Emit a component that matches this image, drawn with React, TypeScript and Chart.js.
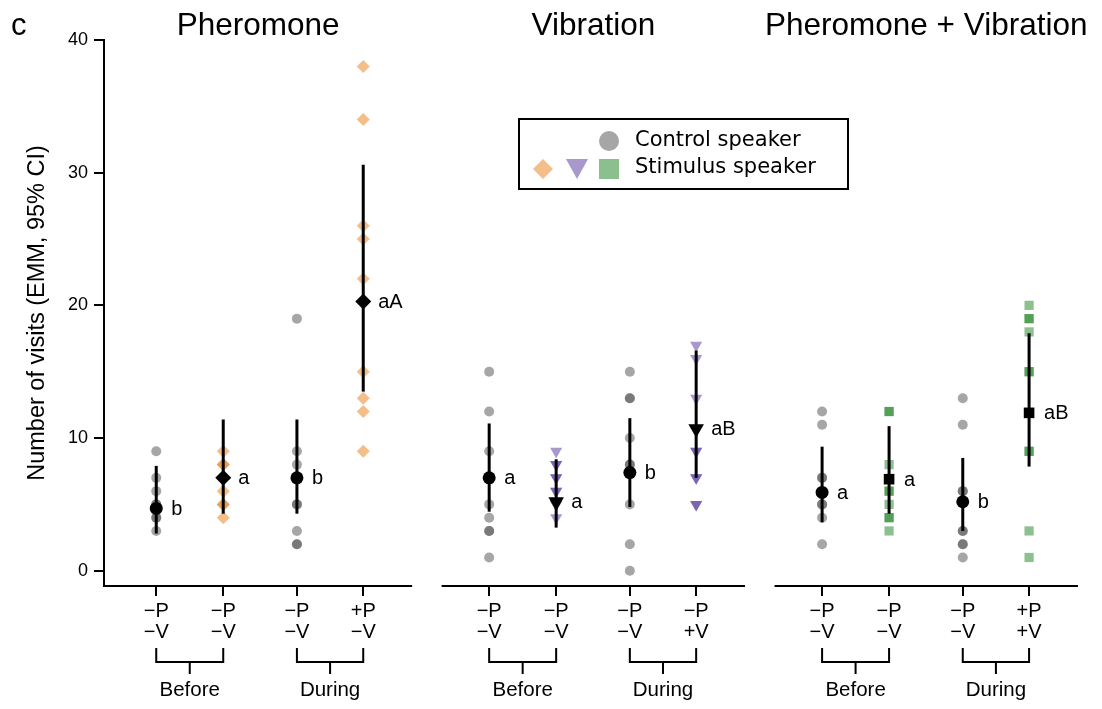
import React, { useEffect, useRef } from 'react';
import { Chart, registerables } from 'chart.js';

Chart.register(...registerables);

const FONT = '"Liberation Sans", Arial, Helvetica, sans-serif';
const LEGEND_FONT = '"DejaVu Sans", Verdana, sans-serif';

// ---- categories / labels ----
const PANELS = ['Pheromone', 'Vibration', 'Pheromone + Vibration'];
const GROUPS = ['Before', 'During'];
const X_LABELS_PHEROMONE = [['−P', '−V'], ['−P', '−V'], ['−P', '−V'], ['+P', '−V']];
const X_LABELS_VIBRATION = [['−P', '−V'], ['−P', '−V'], ['−P', '−V'], ['−P', '+V']];
const X_LABELS_COMBINED = [['−P', '−V'], ['−P', '−V'], ['−P', '−V'], ['+P', '+V']];
const Y_TICKS = [0, 10, 20, 30, 40];
const LEGEND_LABELS = ['Control speaker', 'Stimulus speaker'];

// ---- raw visit counts (order: before control, before stimulus, during control, during stimulus) ----
const PHEROMONE_RAW = [
  [9, 7, 6, 5, 5, 4, 4, 3],
  [9, 8, 8, 7, 6, 5, 5, 4],
  [19, 9, 8, 7, 5, 5, 3, 2, 2],
  [38, 34, 26, 25, 22, 15, 13, 12, 9],
];
const VIBRATION_RAW = [
  [15, 12, 9, 5, 4, 3, 3, 1],
  [9, 8, 8, 7, 7, 6, 6, 5, 5, 4],
  [15, 13, 13, 10, 8, 8, 5, 2, 0],
  [17, 16, 13, 9, 9, 7, 7, 5, 5],
];
const COMBINED_RAW = [
  [12, 11, 7, 7, 5, 5, 4, 2],
  [12, 12, 8, 6, 6, 5, 4, 4, 3],
  [13, 11, 6, 6, 3, 3, 2, 2, 1],
  [20, 19, 19, 18, 15, 15, 9, 9, 3, 1],
];

// ---- estimated marginal means and 95% CI ----
const PHEROMONE_EMM = [4.7, 7.0, 7.0, 20.3];
const PHEROMONE_LO = [2.8, 4.3, 4.3, 13.5];
const PHEROMONE_HI = [7.9, 11.4, 11.4, 30.6];
const PHEROMONE_LETTERS = ['b', 'a', 'b', 'aA'];

const VIBRATION_EMM = [7.0, 5.2, 7.4, 10.7];
const VIBRATION_LO = [4.45, 3.25, 4.8, 7.0];
const VIBRATION_HI = [11.1, 8.4, 11.5, 16.6];
const VIBRATION_LETTERS = ['a', 'a', 'b', 'aB'];

const COMBINED_EMM = [5.9, 6.9, 5.2, 11.9];
const COMBINED_LO = [3.65, 4.3, 3.0, 7.85];
const COMBINED_HI = [9.35, 10.9, 8.5, 17.9];
const COMBINED_LETTERS = ['a', 'a', 'b', 'aB'];

// ---- layout of category positions on the linear x scale ----
const COND_POS = [0.78, 1.78, 2.88, 3.87];
const PANEL_STEP = 4.97;
const AXIS_START = [0, 0.07, 0.07];
const AXIS_END = 4.6;
const X_MIN = 0;
const X_MAX = 14.6;

const PANEL_DATA = [
  { raw: PHEROMONE_RAW, emm: PHEROMONE_EMM, lo: PHEROMONE_LO, hi: PHEROMONE_HI, letters: PHEROMONE_LETTERS, labels: X_LABELS_PHEROMONE },
  { raw: VIBRATION_RAW, emm: VIBRATION_EMM, lo: VIBRATION_LO, hi: VIBRATION_HI, letters: VIBRATION_LETTERS, labels: X_LABELS_VIBRATION },
  { raw: COMBINED_RAW, emm: COMBINED_EMM, lo: COMBINED_LO, hi: COMBINED_HI, letters: COMBINED_LETTERS, labels: X_LABELS_COMBINED },
];

const CONTROL_STYLE = { style: 'circle', rot: 0, color: 'rgba(77,77,77,0.5)', r: 5, mr: 6.5, legend: '#a6a6a6' };
const STIM_STYLES = [
  { style: 'rectRot', rot: 0, color: 'rgba(231,125,21,0.5)', r: 6.5, mr: 8, legend: '#f3be8a' },
  { style: 'triangle', rot: 180, color: 'rgba(81,49,153,0.5)', r: 7, mr: 9, legend: '#a898cc' },
  { style: 'rect', rot: 0, color: 'rgba(27,129,31,0.5)', r: 6.5, mr: 7.5, legend: '#8cbf8e' },
];

const xOf = (p: number, c: number) => p * PANEL_STEP + COND_POS[c];
const X_TICK_POS: number[] = [];
const X_TICK_LABELS: string[][] = [];
PANEL_DATA.forEach((pd, p) => pd.labels.forEach((l, c) => { X_TICK_POS.push(xOf(p, c)); X_TICK_LABELS.push(l); }));

function buildDatasets() {
  const ds: any[] = [];
  PANEL_DATA.forEach((pd, p) => {
    pd.raw.forEach((vals, c) => {
      const st = c % 2 === 1 ? STIM_STYLES[p] : CONTROL_STYLE;
      const x = xOf(p, c);
      ds.push({
        type: 'scatter',
        data: vals.map((v) => ({ x, y: v })),
        pointStyle: st.style,
        pointRotation: st.rot,
        pointRadius: st.r,
        pointHoverRadius: st.r,
        pointBackgroundColor: st.color,
        pointBorderColor: 'rgba(0,0,0,0)',
        pointBorderWidth: 0,
        order: 3,
      });
      ds.push({
        type: 'line',
        data: [{ x, y: pd.lo[c] }, { x, y: pd.hi[c] }],
        borderColor: '#000',
        borderWidth: 3,
        pointRadius: 0,
        fill: false,
        order: 2,
      });
      ds.push({
        type: 'scatter',
        data: [{ x, y: pd.emm[c] }],
        pointStyle: st.style,
        pointRotation: st.rot,
        pointRadius: st.mr,
        pointHoverRadius: st.mr,
        pointBackgroundColor: '#000',
        pointBorderColor: 'rgba(0,0,0,0)',
        pointBorderWidth: 0,
        order: 1,
      });
    });
  });
  return ds;
}

function shape(ctx: CanvasRenderingContext2D, kind: string, cx: number, cy: number, s: number, color: string) {
  ctx.fillStyle = color;
  ctx.beginPath();
  if (kind === 'circle') {
    ctx.arc(cx, cy, s, 0, Math.PI * 2);
  } else if (kind === 'rectRot') {
    ctx.moveTo(cx, cy - s); ctx.lineTo(cx + s, cy); ctx.lineTo(cx, cy + s); ctx.lineTo(cx - s, cy); ctx.closePath();
  } else if (kind === 'triangle') {
    ctx.moveTo(cx - s * 1.1, cy - s); ctx.lineTo(cx + s * 1.1, cy - s); ctx.lineTo(cx, cy + s); ctx.closePath();
  } else {
    ctx.rect(cx - s, cy - s, 2 * s, 2 * s);
  }
  ctx.fill();
}

const overlay = {
  id: 'overlay',
  afterDraw(chart: any) {
    const { ctx, chartArea } = chart;
    const xs = chart.scales.x;
    const ys = chart.scales.y;
    ctx.save();
    ctx.strokeStyle = '#000';
    ctx.fillStyle = '#000';
    const yb = chartArea.bottom;

    PANEL_DATA.forEach((pd, p) => {
      const x0 = xs.getPixelForValue(p * PANEL_STEP + AXIS_START[p]);
      const x1 = xs.getPixelForValue(p * PANEL_STEP + AXIS_END);
      ctx.lineWidth = 2;
      ctx.beginPath();
      ctx.moveTo(p === 0 ? x0 - 1 : x0, yb);
      ctx.lineTo(x1, yb);
      ctx.stroke();

      // panel title
      ctx.font = `31.5px ${FONT}`;
      ctx.textAlign = 'center';
      ctx.textBaseline = 'alphabetic';
      ctx.fillStyle = '#000';
      ctx.fillText(PANELS[p], (x0 + x1) / 2, 35);

      // brackets
      GROUPS.forEach((g, gi) => {
        const a = xs.getPixelForValue(xOf(p, gi * 2));
        const b = xs.getPixelForValue(xOf(p, gi * 2 + 1));
        ctx.lineWidth = 2;
        ctx.beginPath();
        ctx.moveTo(a, 648); ctx.lineTo(a, 662); ctx.lineTo(b, 662); ctx.lineTo(b, 648);
        ctx.moveTo((a + b) / 2, 662); ctx.lineTo((a + b) / 2, 674);
        ctx.stroke();
        ctx.font = `20.5px ${FONT}`;
        ctx.textAlign = 'center';
        ctx.textBaseline = 'middle';
        ctx.fillText(g, (a + b) / 2, 690);
      });

      // letters
      pd.letters.forEach((t, c) => {
        ctx.font = `20px ${FONT}`;
        ctx.textAlign = 'left';
        ctx.textBaseline = 'middle';
        ctx.fillText(t, xs.getPixelForValue(xOf(p, c)) + 15, ys.getPixelForValue(pd.emm[c]) + 1);
      });
    });

    // panel letter
    ctx.font = `31px ${FONT}`;
    ctx.textAlign = 'left';
    ctx.textBaseline = 'alphabetic';
    ctx.fillText('c', 11, 35);

    // legend
    ctx.lineWidth = 2;
    ctx.strokeRect(519, 119, 329, 70);
    shape(ctx, CONTROL_STYLE.style, 609, 141, 10, CONTROL_STYLE.legend);
    shape(ctx, STIM_STYLES[0].style, 543, 169, 10, STIM_STYLES[0].legend);
    shape(ctx, STIM_STYLES[1].style, 577, 169, 10, STIM_STYLES[1].legend);
    shape(ctx, STIM_STYLES[2].style, 609, 169, 10, STIM_STYLES[2].legend);
    ctx.fillStyle = '#000';
    ctx.font = `21px ${LEGEND_FONT}`;
    ctx.textAlign = 'left';
    ctx.textBaseline = 'alphabetic';
    ctx.fillText(LEGEND_LABELS[0], 635, 146);
    ctx.fillText(LEGEND_LABELS[1], 635, 173);
    ctx.restore();
  },
};

export default function App() {
  const ref = useRef<HTMLCanvasElement | null>(null);
  useEffect(() => {
    if (!ref.current) return;
    const chart = new Chart(ref.current, {
      type: 'scatter',
      data: { datasets: buildDatasets() },
      options: {
        animation: false,
        responsive: false,
        events: [],
        layout: { padding: { top: 40, right: 20, left: 0, bottom: 0 } },
        plugins: { legend: { display: false }, tooltip: { enabled: false } },
        scales: {
          x: {
            type: 'linear',
            min: X_MIN,
            max: X_MAX,
            afterBuildTicks: (s: any) => { s.ticks = X_TICK_POS.map((v) => ({ value: v })); },
            afterFit: (s: any) => { s.height = 123; },
            ticks: {
              callback: (_v: any, i: number) => X_TICK_LABELS[i],
              font: { family: FONT, size: 20, lineHeight: 1.05 },
              color: '#000',
              padding: 5,
              maxRotation: 0,
              autoSkip: false,
            },
            grid: { display: true, drawOnChartArea: false, drawTicks: true, tickLength: 10, color: '#000', lineWidth: 2 },
            border: { display: false },
          },
          y: {
            type: 'linear',
            min: -1.15,
            max: 40,
            afterBuildTicks: (s: any) => { s.ticks = Y_TICKS.map((v) => ({ value: v })); },
            afterFit: (s: any) => { s.width = 104; },
            ticks: { font: { family: FONT, size: 18 }, color: '#000', padding: 6 },
            grid: { display: true, drawOnChartArea: false, drawTicks: true, tickLength: 10, color: '#000', lineWidth: 2 },
            border: { display: true, color: '#000', width: 2 },
            title: {
              display: true,
              text: 'Number of visits (EMM, 95% CI)',
              font: { family: FONT, size: 23.5 },
              color: '#000',
              padding: { top: 23, bottom: 0 },
            },
          },
        },
      } as any,
      plugins: [overlay],
    });
    return () => chart.destroy();
  }, []);
  return (
    <div style={{ position: 'fixed', left: 0, top: 0, width: 1102, height: 709, background: '#fff' }}>
      <canvas ref={ref} width={1102} height={709} />
    </div>
  );
}
